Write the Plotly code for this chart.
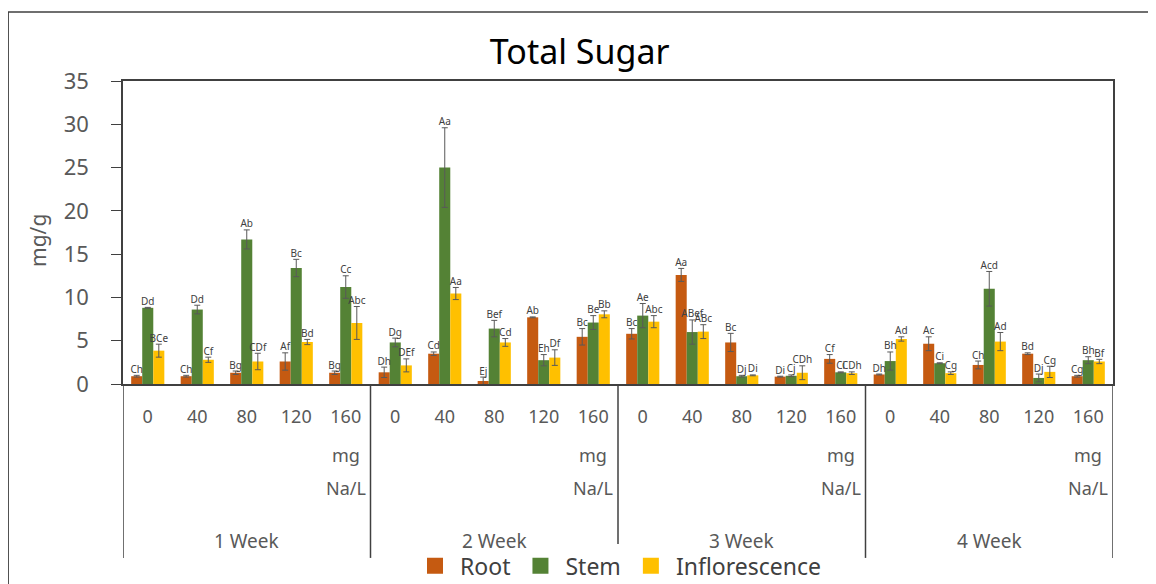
import plotly.graph_objects as go

# Total sugar (mg/g) by week and Na dose
weeks = ['1 Week', '2 Week', '3 Week', '4 Week']
doses = ['0', '40', '80', '120', '160']

root = [0.9, 0.9, 1.3, 2.6, 1.3,
        1.35, 3.5, 0.35, 7.7, 5.45,
        5.8, 12.6, 4.8, 0.85, 2.9,
        1.1, 4.65, 2.2, 3.5, 0.9]
root_err = [0.1, 0.1, 0.2, 1.0, 0.2,
            0.6, 0.2, 0.45, 0.05, 0.95,
            0.6, 0.75, 1.05, 0.05, 0.5,
            0.05, 0.8, 0.45, 0.1, 0.1]
root_lbl = ['Ch', 'Ch', 'Bg', 'Af', 'Bg',
            'Dh', 'Cd', 'Ej', 'Ab', 'Bc',
            'Bc', 'Aa', 'Bc', 'Di', 'Cf',
            'Dh', 'Ac', 'Ch', 'Bd', 'Cg']

stem = [8.8, 8.6, 16.7, 13.4, 11.2,
        4.8, 25.0, 6.4, 2.75, 7.1,
        7.9, 6.0, 0.9, 0.95, 1.35,
        2.65, 2.4, 11.0, 0.7, 2.75]
stem_err = [0.05, 0.5, 1.1, 1.0, 1.3,
            0.5, 4.6, 0.95, 0.65, 0.8,
            1.4, 1.4, 0.1, 0.1, 0.05,
            1.05, 0.05, 2.0, 0.45, 0.4]
stem_lbl = ['Dd', 'Dd', 'Ab', 'Bc', 'Cc',
            'Dg', 'Aa', 'Bef', 'Eh', 'Be',
            'Ae', 'ABef', 'Dj', 'Cj', 'Ci',
            'Bh', 'Ci', 'Acd', 'Dj', 'Bh']

inflo = [3.85, 2.8, 2.6, 4.85, 7.05,
         2.15, 10.45, 4.8, 3.05, 8.05,
         7.2, 6.05, 1.0, 1.3, 1.25,
         5.2, 1.25, 4.9, 1.4, 2.6]
inflo_err = [0.75, 0.3, 0.95, 0.3, 1.9,
             0.75, 0.7, 0.45, 0.9, 0.4,
             0.7, 0.8, 0.05, 0.8, 0.15,
             0.25, 0.15, 1.05, 0.65, 0.25]
inflo_lbl = ['BCe', 'Cf', 'CDf', 'Bd', 'Abc',
             'DEf', 'Aa', 'Cd', 'Df', 'Bb',
             'Abc', 'ABc', 'Di', 'CDh', 'CDh',
             'Ad', 'Cg', 'Ad', 'Cg', 'Bf']

colors = {'Root': '#C55A11', 'Stem': '#548235', 'Inflorescence': '#FFC000'}
font = 'Noto Sans'
axis_col = '#595959'
line_col = '#404040'

n = len(doses)
xpos = [g * n + i for g in range(len(weeks)) for i in range(n)]
bargap = 0.33
bw = (1 - bargap) / 3

series = [('Root', root, root_err, root_lbl, -bw),
          ('Stem', stem, stem_err, stem_lbl, 0),
          ('Inflorescence', inflo, inflo_err, inflo_lbl, bw)]

fig = go.Figure()

for name, vals, errs, lbls, off in series:
    fig.add_trace(go.Bar(
        x=xpos, y=vals, name=name, showlegend=False,
        marker=dict(color=colors[name], line=dict(width=0)),
        error_y=dict(type='data', array=errs, color=axis_col, thickness=1, width=3)
    ))
    # significance letters sit above the error bar
    fig.add_trace(go.Scatter(
        x=[p + off for p in xpos], y=[v + e for v, e in zip(vals, errs)],
        mode='text', text=lbls, textposition='top center',
        textfont=dict(family=font, size=10, color=line_col),
        showlegend=False, hoverinfo='skip', cliponaxis=False
    ))

# legend entries with bigger squares
for name in colors:
    fig.add_trace(go.Scatter(
        x=[None], y=[None], mode='markers', name=name,
        marker=dict(symbol='square', size=18, color=colors[name])
    ))

lbl_font = dict(family=font, size=18, color=axis_col)
annotations = []
shapes = []
for g, wk in enumerate(weeks):
    last = g * n + n - 1
    annotations.append(dict(x=last, y=-0.234, xref='x', yref='paper', text='mg',
                            xanchor='center', yanchor='middle', showarrow=False, font=lbl_font))
    annotations.append(dict(x=last, y=-0.343, xref='x', yref='paper', text='Na/L',
                            xanchor='center', yanchor='middle', showarrow=False, font=lbl_font))
    annotations.append(dict(x=g * n + (n - 1) / 2, y=-0.518, xref='x', yref='paper', text=wk,
                            xanchor='center', yanchor='middle', showarrow=False,
                            font=dict(family=font, size=19, color=axis_col)))
for g in range(len(weeks) + 1):
    shapes.append(dict(type='line', xref='x', yref='paper', x0=g * n - 0.5, x1=g * n - 0.5,
                       y0=0, y1=-0.574, line=dict(color=line_col, width=1.5)))

# outer frame
shapes.append(dict(type='rect', xref='paper', yref='paper', x0=-0.116, x1=1.0424,
                   y0=-0.75, y1=1.2277, line=dict(color=line_col, width=1.5)))

annotations.append(dict(x=-0.086, y=0.475, xref='paper', yref='paper', text='mg/g',
                        textangle=-90, xanchor='center', yanchor='middle', showarrow=False,
                        font=dict(family=font, size=21, color=axis_col)))

fig.update_layout(
    title=dict(text='Total Sugar', x=0.498, xanchor='center', y=0.9236, yanchor='middle',
               font=dict(family=font, size=34, color='#000000')),
    width=1148, height=576,
    margin=dict(l=115, r=43, t=73, b=200, autoexpand=False),
    plot_bgcolor='white', paper_bgcolor='white',
    barmode='group', bargap=bargap, bargroupgap=0,
    legend=dict(orientation='h', x=0.5, xanchor='center', y=-0.6, yanchor='middle',
                font=dict(family=font, size=23, color=line_col), itemsizing='trace',
                itemwidth=40),
    annotations=annotations, shapes=shapes,
    showlegend=True
)

fig.update_xaxes(
    range=[-0.5, len(xpos) - 0.5], tickvals=xpos, ticktext=doses * len(weeks),
    ticks='', showgrid=False, zeroline=False, showline=True, linecolor=line_col, linewidth=1.5,
    mirror=True, ticklabelstandoff=16,
    tickfont=lbl_font
)
fig.update_yaxes(
    range=[0, 35], dtick=5, ticks='outside', ticklen=10, tickcolor=line_col,
    showgrid=False, zeroline=False, showline=True, linecolor=line_col, linewidth=1.5,
    mirror=True, ticklabelstandoff=18,
    tickfont=dict(family=font, size=22, color=axis_col)
)

fig.write_html('out.html')
